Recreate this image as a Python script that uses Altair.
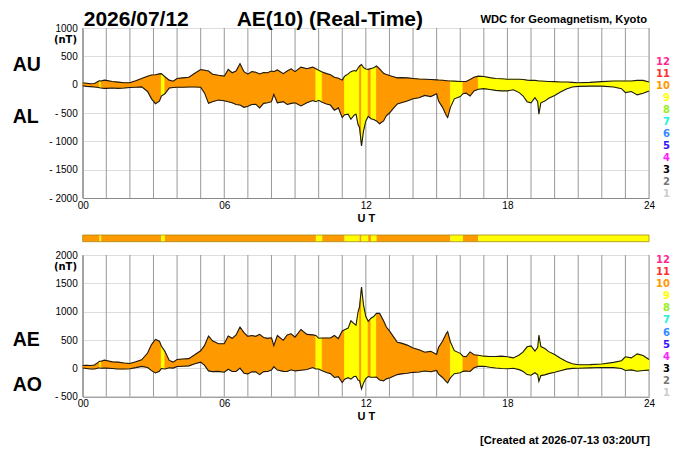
import altair as alt
import pandas as pd

# ---- data ----
# time in minutes UT, AU and AL in nT
TIME_MIN = [0, 10, 20, 30, 40, 43, 47, 55, 60, 75, 90, 105, 120, 135, 150, 165, 175, 185, 195,
            200, 209, 220, 230, 240, 255, 270, 285, 300, 310, 320, 330, 345, 360, 370, 380, 390,
            400, 410, 420, 430, 440, 450, 460, 470, 480, 486, 495, 510, 520, 530, 540, 555, 570,
            585, 593, 600, 609, 620, 630, 640, 650, 660, 666, 675, 682, 690, 695, 700, 704, 709,
            714, 720, 726, 733, 740, 747, 755, 765, 772, 780, 790, 800, 810, 825, 840, 855, 870,
            885, 900, 905, 915, 925, 928, 935, 945, 960, 967, 975, 985, 995, 1006, 1020, 1035,
            1050, 1065, 1080, 1095, 1110, 1120, 1130, 1140, 1150, 1157, 1160, 1165, 1175, 1185,
            1200, 1215, 1230, 1245, 1260, 1290, 1320, 1350, 1370, 1380, 1395, 1410, 1425, 1440]
AU = [30, 25, 15, 20, 60, 70, 65, 80, 75, 55, 45, 35, 35, 70, 110, 150, 170, 175, 190,
      195, 140, 80, 60, 110, 120, 130, 200, 265, 255, 240, 185, 165, 150, 270, 210, 240,
      370, 230, 185, 230, 220, 190, 215, 210, 240, 230, 260, 195, 240, 280, 230, 310, 280,
      310, 280, 255, 225, 195, 175, 130, 115, 80, 150, 190, 230, 250, 240, 290, 330, 355,
      300, 275, 270, 285, 300, 330, 280, 200, 180, 160, 140, 120, 125, 120, 110, 100, 95,
      90, 85, 82, 78, 70, 68, 65, 62, 55, 55, 55, 90, 130, 150, 145, 125,
      110, 105, 95, 95, 95, 90, 80, 76, 76, 70, 65, 65, 60, 55,
      53, 47, 47, 41, 35, 41, 53, 65, 65, 65, 65, 76, 76, 47]
AL = [-20, -30, -35, -40, -50, -55, -60, -65, -65, -60, -65, -60, -50, -45, -40, -120, -250, -335, -290,
      -200, -160, -60, -50, -45, -45, -42, -40, -45, -150, -330, -300, -270, -285, -300, -320, -350,
      -360, -400, -380, -350, -345, -410, -330, -320, -300, -170, -320, -300, -350, -330, -320, -375, -320,
      -280, -300, -276, -310, -340, -360, -450, -410, -580, -530, -520, -610, -540, -520, -700, -760, -1080,
      -820, -640, -560, -600, -615, -640, -690, -640, -550, -500, -420, -340, -320, -290, -250, -230, -190,
      -210, -160, -290, -400, -550, -580, -400, -250, -210, -160, -150, -200, -110, -80, -70, -85,
      -100, -110, -110, -90, -140, -200, -300, -320, -230, -300, -520, -320, -290, -240,
      -190, -130, -75, -40, -30, -25, -25, -40, -70, -140, -120, -180, -150, -110]

# number of contributing stations, by interval (minutes UT)
SEG_START = [0, 43, 47, 200, 209, 593, 609, 666, 704, 709, 726, 733, 747, 935, 967, 1006]
SEG_END = [43, 47, 200, 209, 593, 609, 666, 704, 709, 726, 733, 747, 935, 967, 1006, 1440]
SEG_STATIONS = [10, 9, 10, 9, 10, 9, 10, 9, 10, 9, 10, 9, 10, 9, 10, 9]

LEGEND_N = [12, 11, 10, 9, 8, 7, 6, 5, 4, 3, 2, 1]
LEGEND_COLORS = ["#ff2a8c", "#ff3030", "#ff9900", "#ffff00", "#99ee22", "#22eedd",
                 "#3388ff", "#3311ff", "#ff22ff", "#000000", "#777777", "#cccccc"]

HOUR_TICKS = list(range(25))
TOP_TICKS = [-2000, -1500, -1000, -500, 0, 500, 1000]
BOT_TICKS = [-500, 0, 500, 1000, 1500, 2000]

# ---- tables ----
df = pd.DataFrame({"t": [m / 60 for m in TIME_MIN], "au": AU, "al": AL})
df["ae"] = df["au"] - df["al"]
df["ao"] = (df["au"] + df["al"]) / 2

rows = []
for i, (s, e, n) in enumerate(zip(SEG_START, SEG_END, SEG_STATIONS)):
    for m, u, l in zip(TIME_MIN, AU, AL):
        if s <= m <= e:
            rows.append({"t": m / 60, "au": u, "al": l, "ae": u - l, "ao": (u + l) / 2,
                         "seg": i, "n": n})
seg_df = pd.DataFrame(rows)
strip_df = pd.DataFrame({"s": [v / 60 for v in SEG_START], "e": [v / 60 for v in SEG_END],
                         "n": SEG_STATIONS})
legend_df = pd.DataFrame({"n": LEGEND_N})
hours_df = pd.DataFrame({"h": HOUR_TICKS})

W = 566.3
FONT_T = "Liberation Sans"
FONT_A = "DejaVu Sans"

cscale = alt.Scale(domain=LEGEND_N, range=LEGEND_COLORS)
xsc = alt.Scale(domain=[0, 24], nice=False, zero=False)
xax = alt.Axis(values=HOUR_TICKS, grid=False, ticks=False, tickSize=0, labelPadding=2,
               titlePadding=2, labelOverlap=False, labelFlush=False,
               labelExpr="datum.value % 6 == 0 ? (datum.value < 10 ? '0' + datum.value : '' + datum.value) : ''")


def X(field="t"):
    return alt.X(f"{field}:Q", scale=xsc, axis=xax, title="U T")


def one():
    return alt.Data(values=[{}])


def label(text, x, y, size, weight="bold", align="left", baseline="alphabetic", font=FONT_T):
    return alt.Chart(one()).mark_text(text=text, font=font, fontSize=size, fontWeight=weight,
                                      align=align, baseline=baseline, color="black").encode(
        x=alt.value(x), y=alt.value(y))


def panel(lo, hi, ydom, yticks, height, big, leg_range, extra):
    ysc = alt.Scale(domain=ydom, nice=False, zero=False)
    yax = alt.Axis(values=yticks, grid=True, ticks=False, tickSize=0, labelPadding=5.5,
                   labelExpr="datum.value < 0 ? '- ' + (-datum.value) : '' + datum.value")
    vgrid = alt.Chart(hours_df).mark_rule(color="#999999", strokeWidth=1).encode(x=X("h"))
    area = alt.Chart(seg_df).mark_area(strokeWidth=0.8).encode(
        x=X(), y=alt.Y(f"{lo}:Q", scale=ysc, axis=yax, title=None), y2=f"{hi}:Q",
        color=alt.Color("n:O", scale=cscale, legend=None),
        stroke=alt.Stroke("n:O", scale=cscale, legend=None),
        detail="seg:N")
    l1 = alt.Chart(df).mark_line(color="#1a1a1a", strokeWidth=1.1).encode(
        x=X(), y=alt.Y(f"{hi}:Q", scale=ysc, axis=yax, title=None))
    l2 = alt.Chart(df).mark_line(color="#1a1a1a", strokeWidth=1.1).encode(
        x=X(), y=alt.Y(f"{lo}:Q", scale=ysc, axis=yax, title=None))
    texts = [label(b[0], -70, b[1], 19.5) for b in big]
    texts.append(label("(nT)", -5.7, 12.3, 10, align="right", baseline="middle", font=FONT_A))
    inner = alt.layer(vgrid, *extra, area, l1, l2, *texts)
    leg = alt.Chart(legend_df).mark_text(align="right", baseline="middle", font=FONT_A,
                                         fontSize=10, fontWeight="bold").encode(
        x=alt.value(587.3),
        y=alt.Y("n:O", scale=alt.Scale(type="point", domain=LEGEND_N, range=leg_range, padding=0),
                axis=None),
        text="n:O",
        color=alt.Color("n:O", scale=cscale, legend=None))
    return alt.layer(inner, leg).resolve_scale(y="independent").properties(width=W, height=height)


top_extra = [
    label("2026/07/12", 1, -2, 21),
    label("AE(10) (Real-Time)", 154, -2, 21),
    label("WDC for Geomagnetism, Kyoto", 564.3, -5.3, 11.2, align="right"),
]
strip = alt.Chart(strip_df).mark_rect().encode(
    x=X("s"), x2="e:Q", y=alt.value(-20), y2=alt.value(-13.3),
    color=alt.Color("n:O", scale=cscale, legend=None))
strip_frame = alt.Chart(one()).mark_rect(fillOpacity=0, stroke="#a88a10", strokeWidth=0.8).encode(
    x=alt.X(datum=0, scale=xsc, axis=xax, title="U T"), x2=alt.X2(datum=24),
    y=alt.value(-20), y2=alt.value(-13.3))
bot_extra = [
    strip, strip_frame,
    label("[Created at 2026-07-13 03:20UT]", 567.3, 189, 11.25, align="right"),
]

top = panel("al", "au", [-2000, 1000], TOP_TICKS, 170, [("AU", 43), ("AL", 94.7)],
            [34, 165.7], top_extra)
bottom = panel("ao", "ae", [-500, 2000], BOT_TICKS, 141.7, [("AE", 91), ("AO", 136)],
               [5.3, 137.7], bot_extra)

chart = alt.vconcat(top, bottom, spacing=57, bounds="flush").properties(
    padding={"left": 3.7, "top": 0, "right": 5, "bottom": 0}
).configure_view(stroke=None).configure_axis(
    labelFont=FONT_A, labelFontWeight="bold", labelFontSize=10, labelColor="black",
    titleFont=FONT_A, titleFontSize=12, titleFontWeight="bold", titleColor="black",
    gridColor="#999999", gridWidth=1, domainColor="#444444", domainWidth=1
).configure(background="white")

chart.save("out.html", embed_options={"renderer": "svg", "actions": False})
